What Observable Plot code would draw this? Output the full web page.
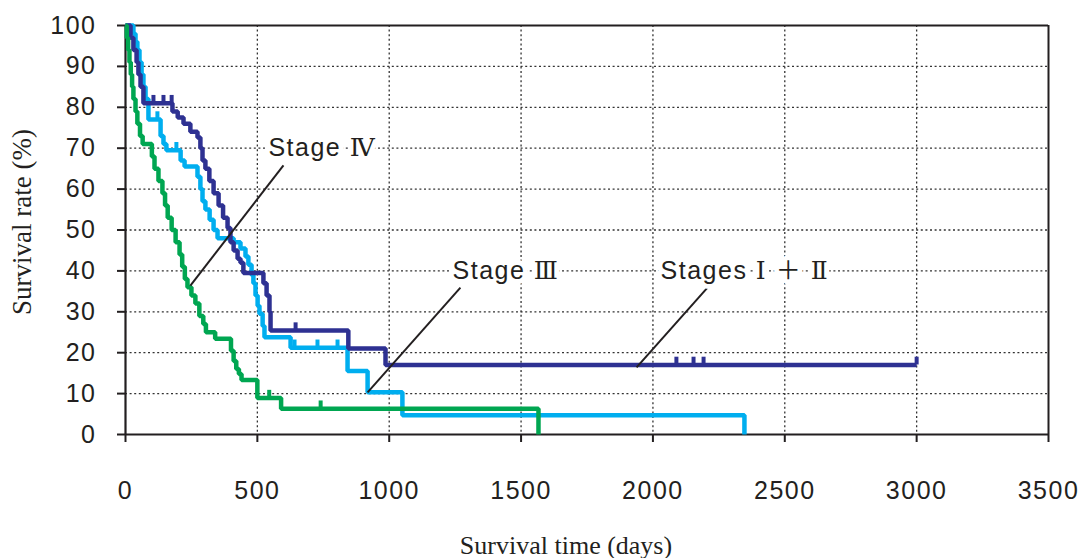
<!DOCTYPE html>
<html><head><meta charset="utf-8">
<script src="https://cdn.jsdelivr.net/npm/d3@7"></script>
<script src="https://cdn.jsdelivr.net/npm/@observablehq/plot@0.6"></script>
<style>
html,body{margin:0;padding:0;background:#fff;}
</style>
</head><body><div id="chart"></div>
<script>
// ---- data ----
const stageNames = ["Stage III", "Stages I+II", "Stage IV"];
const stageColors = ["#00AEEF", "#2E3192", "#00A651"];

const xTicks = [0, 500, 1000, 1500, 2000, 2500, 3000, 3500];
const yTicks = [0, 10, 20, 30, 40, 50, 60, 70, 80, 90, 100];

// Stages I+II (days, survival %)
const stage12Time = [0,19,30,42,49,57,68,178,198,220,246,273,284,292,303,318,334,353,370,387,398,410,425,436,447,523,535,546,550,845,986,3000];
const stage12Surv = [100,97,94,91,88,85,81,79,77.5,76,74,72.6,70,67,65,62,59,56,53,50.5,47,45,43,42,39.5,37,34,30,25.4,21,17,17];
const stage12CensorTime = [106,144,175,645,2089,2154,2192,3000];
const stage12CensorSurv = [81,81,81,25.4,17,17,17,17];

// Stage III
const stage3Time = [0,30,38,45,53,61,68,76,87,133,144,155,209,224,273,284,292,303,319,334,349,410,436,455,466,478,485,493,501,508,520,527,626,842,918,1050,2347];
const stage3Surv = [100,98,96,94,91,88,85,82,77,73,71,69.5,67,65.5,63,60,57,55,52.5,50,48,47,45.5,43.5,41.5,39,37,34,31.5,29.5,26.5,23.8,21.2,15.5,10.3,4.7,0];
const stage3CensorTime = [121,193,641,728,804];
const stage3CensorSurv = [77,69.5,21.2,21.2,21.2];

// Stage IV
const stage4Time = [0,5,10,15,20,25,30,38,45,55,65,100,110,125,140,150,160,175,190,205,215,225,235,250,265,280,295,305,340,400,410,420,430,440,500,590,1566];
const stage4Surv = [100,97,94,91,88,85,82,79,76,73,71,68,65,62,59,56,53,50,47,44,41,38,36,34,32,29,27,25,23.4,20.5,18,16,14.8,13.3,8.9,6.3,0];
const stage4CensorTime = [545,740];
const stage4CensorSurv = [8.9,6.3];

// annotations (data units)
const labelText = ["Stage Ⅳ", "Stage Ⅲ", "Stages Ⅰ ＋ Ⅱ"];
const labelX = [542, 1240, 2029];
const labelY = [70, 40, 40];
const leaderX1 = [599, 1270, 2207];
const leaderY1 = [65.8, 35.9, 35.9];
const leaderX2 = [246, 918, 1938];
const leaderY2 = [36.4, 10.3, 16.4];

// ---- build tables ----
const rows = (stage, T, S) => T.map((t, i) => ({stage, t, s: S[i]}));
const lineData = [
  ...rows("Stage III", stage3Time, stage3Surv),
  ...rows("Stages I+II", stage12Time, stage12Surv),
  ...rows("Stage IV", stage4Time, stage4Surv)
];
const censorData = [
  ...rows("Stage III", stage3CensorTime, stage3CensorSurv),
  ...rows("Stages I+II", stage12CensorTime, stage12CensorSurv),
  ...rows("Stage IV", stage4CensorTime, stage4CensorSurv)
];
const labels = labelText.map((text, i) => ({text, x: labelX[i], y: labelY[i]}));
const leaders = leaderX1.map((x1, i) => ({x1, y1: leaderY1[i], x2: leaderX2[i], y2: leaderY2[i]}));

const ink = "#231f20";
const sans = "'Liberation Sans', 'Noto Sans CJK JP', Arial, sans-serif";
const serif = "'Liberation Serif', 'Times New Roman', serif";

const chart = Plot.plot({
  width: 1089, height: 558,
  marginLeft: 125, marginRight: 41, marginTop: 25, marginBottom: 124,
  style: {fontFamily: sans, fontSize: "25px", background: "#fff", color: ink, overflow: "visible"},
  x: {domain: [0, 3500]},
  y: {domain: [0, 100]},
  color: {domain: stageNames, range: stageColors},
  marks: [
    Plot.gridX(xTicks.filter(d => d > 0 && d < 3500), {stroke: "#333", strokeOpacity: 1, strokeWidth: 1.3, strokeDasharray: "2,2.6"}),
    Plot.gridY(yTicks.filter(d => d > 0 && d < 100), {stroke: "#333", strokeOpacity: 1, strokeWidth: 1.3, strokeDasharray: "2,2.6"}),
    Plot.ruleY([100], {stroke: ink, strokeWidth: 2}),
    Plot.ruleX([3500], {stroke: ink, strokeWidth: 2}),
    Plot.ruleY([0], {stroke: ink, strokeWidth: 2.2}),
    Plot.ruleX([0], {stroke: ink, strokeWidth: 2.2}),
    Plot.axisY(yTicks, {tickSize: 8, tickPadding: 21, fontSize: 25, color: ink, strokeWidth: 2, label: null, tickFormat: d => String(d)}),
    Plot.axisX(xTicks, {tickSize: 8, tickPadding: 39, fontSize: 25, color: ink, strokeWidth: 2, label: null, tickFormat: d => String(d)}),
    Plot.line(lineData, {x: "t", y: "s", z: "stage", stroke: "stage", strokeWidth: 4.5, curve: "step-after", strokeLinejoin: "miter", strokeLinecap: "butt"}),
    Plot.ruleX(censorData, {x: "t", y1: "s", y2: d => d.s + 1.9, stroke: "stage", strokeWidth: 4}),
    Plot.link(leaders, {x1: "x1", y1: "y1", x2: "x2", y2: "y2", stroke: ink, strokeWidth: 2}),
    Plot.text(labels, {x: "x", y: "y", text: "text", textAnchor: "start", lineAnchor: "middle", fontSize: 25, fill: ink, stroke: "#fff", strokeWidth: 10, paintOrder: "stroke"}),
    Plot.text(["Survival rate (%)"], {frameAnchor: "left", rotate: -90, dx: -103, dy: -8, textAnchor: "middle", lineAnchor: "middle", fontFamily: serif, fontSize: 27, fill: ink}),
    Plot.text(["Survival time (days)"], {frameAnchor: "bottom", dx: -21, dy: 111, textAnchor: "middle", lineAnchor: "middle", fontFamily: serif, fontSize: 26, fill: ink})
  ]
});
// wider letter spacing of the sans labels; serif roman numerals, as in the reference
for (const t of chart.querySelectorAll("text")) {
  const s = t.textContent;
  if (s.startsWith("Survival")) continue;
  t.setAttribute("letter-spacing", "1.5px");
  if (/[\u2160-\u216B]/.test(s)) {
    t.textContent = "";
    for (const part of s.split(/([\u2160-\u216B])/)) {
      if (!part) continue;
      const ts = document.createElementNS("http://www.w3.org/2000/svg", "tspan");
      if (/[\u2160-\u216B]/.test(part)) ts.setAttribute("font-family", "'DejaVu Serif', 'Noto Sans CJK JP', serif");
      ts.textContent = part;
      t.appendChild(ts);
    }
  }
}
document.getElementById("chart").appendChild(chart);
</script>
</body></html>
